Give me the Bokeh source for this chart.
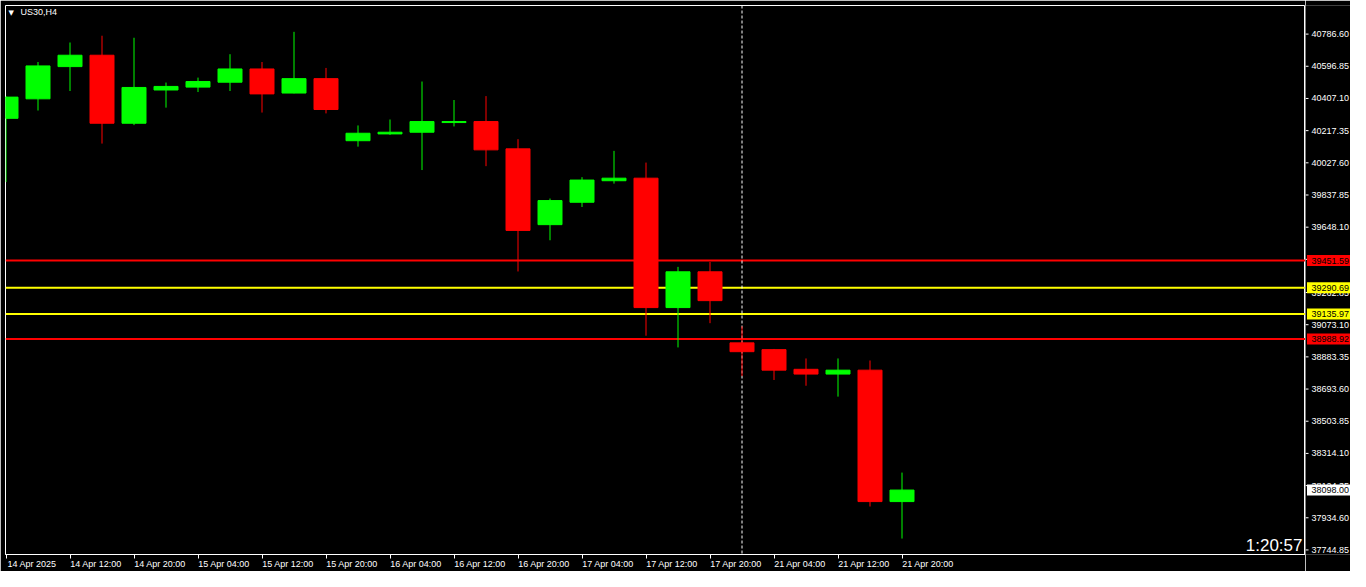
from bokeh.plotting import figure
from bokeh.layouts import row
from bokeh.models import (ColumnDataSource, Range1d, Span, Label, LinearAxis,
                          FixedTicker, CustomJSTickFormatter)
from bokeh.embed import file_html
from bokeh.resources import INLINE
from bokeh.core.properties import value

# ---------------- data ----------------
bar_index = list(range(29))
opens  = [40290, 40405, 40595, 40662, 40261, 40457, 40474, 40503, 40581, 40439,
          40524, 40158, 40198, 40208, 40265, 40271, 40110, 39663, 39795, 39922,
          39937, 39174, 39385, 38966, 38926, 38810, 38782, 38805, 38030]
highs  = [40420, 40622, 40737, 40777, 40765, 40501, 40530, 40668, 40622, 40800,
          40587, 40248, 40283, 40507, 40398, 40421, 40167, 39817, 39943, 40098,
          40029, 39414, 39443, 39063, 38930, 38874, 38874, 38862, 38201]
lows   = [39914, 40336, 40451, 40141, 40250, 40353, 40445, 40451, 40324, 40437,
          40319, 40123, 40192, 39985, 40242, 40008, 39387, 39571, 39767, 39905,
          39008, 38939, 39082, 38770, 38747, 38713, 38649, 38001, 37812]
closes = [40415, 40599, 40662, 40261, 40472, 40478, 40507, 40581, 40434, 40524,
          40342, 40202, 40208, 40271, 40271, 40104, 39629, 39805, 39926, 39937,
          39174, 39385, 39215, 38914, 38805, 38782, 38805, 38030, 38098]

time_ticks  = [0, 2, 4, 6, 8, 10, 12, 14, 16, 18, 20, 22, 24, 26, 28]
time_labels = ["14 Apr 2025", "14 Apr 12:00", "14 Apr 20:00", "15 Apr 04:00",
               "15 Apr 12:00", "15 Apr 20:00", "16 Apr 04:00", "16 Apr 12:00",
               "16 Apr 20:00", "17 Apr 04:00", "17 Apr 12:00", "17 Apr 20:00",
               "21 Apr 04:00", "21 Apr 12:00", "21 Apr 20:00"]
price_ticks = [40786.60, 40596.85, 40407.10, 40217.35, 40027.60, 39837.85,
               39648.10, 39458.35, 39262.85, 39073.10, 38883.35, 38693.60,
               38503.85, 38314.10, 38124.35, 37934.60, 37744.85]
level_prices = [39451.59, 39290.69, 39135.97, 38988.92]
level_colors = ["#ff0000", "#ffff00", "#ffff00", "#ff0000"]
separator_bar = 23
last_price = 38098.00
symbol = "US30,H4"
countdown = "1:20:57"

UP, DOWN = "#00ff00", "#ff0000"
FONT = "Liberation Sans"

# ---------------- layout ----------------
BL, BT, BB = 5, 5, 17
FW, FH = 1300, 549          # main frame
SW = 45                      # price scale strip width
X0 = -0.015625
X1 = X0 + FW / 32.0
Y1 = 40955.25
Y0 = 37718.0
PPX = (Y1 - Y0) / FH         # price units per pixel

yr = Range1d(Y0, Y1)

p = figure(frame_width=FW, frame_height=FH,
           x_range=Range1d(X0, X1), y_range=yr,
           output_backend="svg", toolbar_location=None,
           x_axis_location="below", y_axis_location=None,
           min_border_left=BL, min_border_top=BT, min_border_right=0, min_border_bottom=BB,
           background_fill_color="black", border_fill_color="black",
           outline_line_color="white", outline_line_width=1)
p.grid.visible = False

for lp, lc in zip(level_prices, level_colors):
    p.add_layout(Span(location=lp, dimension="width", line_color=lc, line_width=2,
                      level="underlay"))
p.add_layout(Span(location=separator_bar, dimension="height", line_color="white",
                  line_width=1, line_dash="3 2", level="underlay"))

cols = [UP if c >= o else DOWN for o, c in zip(opens, closes)]
src = ColumnDataSource(dict(
    x=bar_index, o=opens, h=highs, l=lows, c=closes,
    top=[max(o, c) for o, c in zip(opens, closes)],
    bot=[min(o, c) for o, c in zip(opens, closes)],
    col=cols))
p.segment(x0="x", y0="l", x1="x", y1="h", line_color="col", line_width=1, source=src)
p.vbar(x="x", width=0.75, top="top", bottom="bot", fill_color="col",
       line_color="col", line_width=1, source=src)

# bottom: tick marks on the real bar positions
xa = p.xaxis[0]
xa.ticker = FixedTicker(ticks=time_ticks, minor_ticks=[])
xa.axis_line_color = "white"
xa.major_tick_line_color = "white"
xa.major_tick_out = 4
xa.major_tick_in = 0
xa.minor_tick_line_color = None
xa.major_label_text_font_size = "1px"
xa.major_label_text_color = None
xa.major_label_standoff = 0

# bottom: left-aligned time labels (centres shifted right of each tick)
SHIFT = 0.8125
xb = LinearAxis(ticker=FixedTicker(ticks=[t + SHIFT for t in time_ticks], minor_ticks=[]),
                formatter=CustomJSTickFormatter(args=dict(labels=time_labels),
                                                code="return labels[index] || ''"))
xb.axis_line_color = None
xb.major_tick_line_color = None
xb.major_tick_out = 0
xb.major_tick_in = 0
xb.minor_tick_line_color = None
xb.major_label_text_color = "white"
xb.major_label_text_font = FONT
xb.major_label_text_font_size = "9px"
xb.major_label_standoff = 0
p.add_layout(xb, "below")

# symbol caption and countdown
p.add_layout(Label(x=X0, y=Y1, x_offset=3, y_offset=-3, text="\u25bc", text_align="left",
                   text_baseline="top", text_color="white", text_font="DejaVu Sans",
                   text_font_size="7px"))
p.add_layout(Label(x=X0, y=Y1, x_offset=15, y_offset=-1, text=symbol, text_align="left",
                   text_baseline="top", text_color="white", text_font=FONT,
                   text_font_size="9px"))
p.add_layout(Label(x=X1, y=Y0, x_offset=-3, y_offset=9, text=countdown,
                   text_align="right", text_baseline="alphabetic", text_color="white",
                   text_font=FONT, text_font_size="17px"))

# ---------------- price scale strip (shares the price range) ----------------
s = figure(frame_width=SW, frame_height=FH,
           x_range=Range1d(0, SW), y_range=yr,
           output_backend="svg", toolbar_location=None,
           x_axis_location=None, y_axis_location=None,
           min_border_left=0, min_border_top=BT, min_border_right=0, min_border_bottom=BB,
           background_fill_color="black", border_fill_color="black",
           outline_line_color=None)
s.grid.visible = False

tick_src = ColumnDataSource(dict(y=price_ticks, text=[f"{v:.2f}" for v in price_ticks]))
s.segment(x0=0, y0="y", x1=3, y1="y", line_color="white", line_width=1, source=tick_src)
s.text(x=6, y="y", text="text", source=tick_src, text_color="white",
       text_font=value(FONT), text_font_size="9px", text_align="left",
       text_baseline="middle")

tag_vals = level_prices + [last_price]
tag_src = ColumnDataSource(dict(
    y=tag_vals,
    col=level_colors + ["#ffffff"],
    text=[f"{v:.2f}" for v in tag_vals],
    bot=[v - 5.5 * PPX for v in tag_vals],
    top=[v + 5.5 * PPX for v in tag_vals]))
s.quad(left=1.5, right=SW + 5, bottom="bot", top="top", fill_color="col",
       line_color=None, source=tag_src)
s.text(x=6, y="y", text="text", source=tag_src, text_color="black",
       text_font=value(FONT), text_font_size="9px", text_align="left",
       text_baseline="middle")

layout = row(p, s, spacing=0)
open("out.html", "w").write(file_html(layout, INLINE))
